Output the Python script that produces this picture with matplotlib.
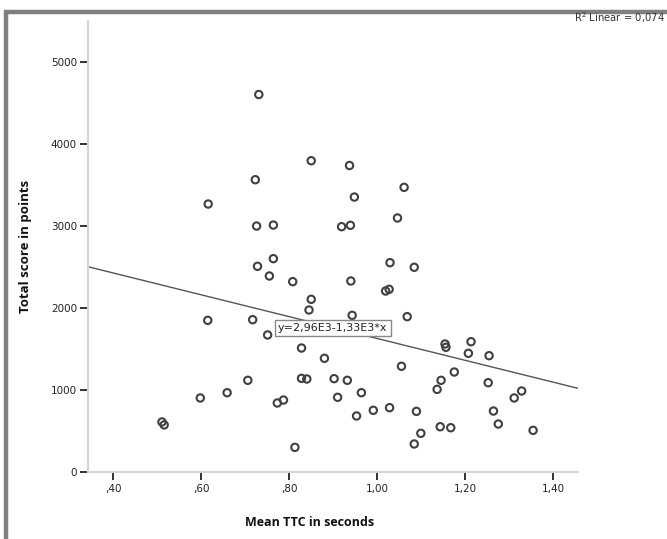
"""
Scatter of total score vs. mean TTC with linear fit (SPSS style).
"""

import matplotlib
matplotlib.use("Agg")
import matplotlib.pyplot as plt
from matplotlib.patches import Rectangle

# Mean time-to-collision (s) per participant
mean_ttc = [
    0.731, 0.850, 0.937, 0.723, 0.948, 0.616, 1.061, 1.046, 0.726, 0.764,
    0.919, 0.939, 0.764, 0.728, 0.755, 0.808, 0.940, 0.850, 0.845, 0.943,
    0.615, 0.717, 0.751, 0.828, 1.029, 1.084, 1.019, 1.027, 1.068, 1.154,
    1.156, 1.213, 1.207, 1.254, 1.055, 1.175, 1.145, 1.136, 1.252, 1.328,
    1.311, 0.991, 1.028, 1.089, 1.264, 1.275, 1.143, 1.167, 1.099, 1.084,
    1.354, 0.880, 0.828, 0.840, 0.902, 0.932, 0.706, 0.964, 0.910, 0.598,
    0.659, 0.787, 0.773, 0.953, 0.511, 0.516, 0.813,
]

# Total score in points per participant
total_score = [
    4600, 3794, 3736, 3563, 3352, 3267, 3470, 3097, 2999, 3011,
    2991, 3008, 2602, 2509, 2391, 2322, 2330, 2107, 1977, 1912,
    1851, 1859, 1673, 1514, 2553, 2497, 2208, 2229, 1896, 1563,
    1523, 1591, 1450, 1421, 1292, 1222, 1121, 1011, 1092, 991,
    906, 756, 788, 743, 747, 589, 556, 544, 476, 346,
    512, 1389, 1145, 1137, 1141, 1121, 1121, 970, 914, 906,
    970, 881, 845, 687, 614, 578, 305,
]

# Linear fit reported by SPSS
fit_intercept = 2.96e3
fit_slope = -1.33e3
r_squared = 0.074

x_ticks = [0.40, 0.60, 0.80, 1.00, 1.20, 1.40]
x_tick_labels = [",40", ",60", ",80", "1,00", "1,20", "1,40"]
y_ticks = [0, 1000, 2000, 3000, 4000, 5000]
y_tick_labels = ["0", "1000", "2000", "3000", "4000", "5000"]

x_min, x_max = 0.343, 1.456
y_min, y_max = 0, 5500

tick_font = "DejaVu Sans"
label_font = "Open Sans"

W, H = 667, 539
fig = plt.figure(figsize=(W / 100, H / 100), dpi=100)
fig.patch.set_facecolor("white")

# grey output frame around the chart
fig.patches.append(Rectangle((5.5 / W, -0.1), 1.2, (H - 11.5) / H + 0.1,
                             transform=fig.transFigure, fill=False,
                             edgecolor="#7f7f7f", linewidth=3.2))

ax = fig.add_axes([88 / W, 66.6 / H, 490 / W, 451.8 / H])
ax.set_xlim(x_min, x_max)
ax.set_ylim(y_min, y_max)

ax.scatter(mean_ttc, total_score, s=28, facecolors="none",
           edgecolors="#404040", linewidths=1.5, zorder=3)

# fit line over the full x range
fit_x = [x_min, x_max]
fit_y = [fit_intercept + fit_slope * v for v in fit_x]
ax.plot(fit_x, fit_y, color="#555555", linewidth=1.0, zorder=2)

eq_text = "y={:.2f}E3{:+.2f}E3*x".format(fit_intercept / 1e3, fit_slope / 1e3)
ax.text(0.899, 1758, eq_text.replace(".", ","), ha="center", va="center",
        fontsize=8, family=tick_font, color="#222222", zorder=4,
        bbox=dict(boxstyle="square,pad=0.3", facecolor="white",
                  edgecolor="#888888", linewidth=1.0))

fig.text(665 / W, 1 - 18 / H,
         "R$^2$ Linear = {}".format(f"{r_squared:.3f}".replace(".", ",")),
         ha="right", va="center", fontsize=7.2, family=tick_font,
         color="#333333")

for side in ["top", "right"]:
    ax.spines[side].set_visible(False)
for side in ["left", "bottom"]:
    ax.spines[side].set_color("#d4d4d4")
    ax.spines[side].set_linewidth(1.5)

ax.set_xticks(x_ticks)
ax.set_xticklabels(x_tick_labels)
ax.set_yticks(y_ticks)
ax.set_yticklabels(y_tick_labels)
ax.tick_params(axis="both", direction="out", length=6, width=1.4,
               color="#333333", labelsize=7.5, labelcolor="#222222", pad=2)
for lbl in ax.get_xticklabels() + ax.get_yticklabels():
    lbl.set_family(tick_font)

ax.set_xlabel("Mean TTC in seconds", fontsize=9, fontweight="bold",
              family=label_font, color="#111111")
ax.set_ylabel("Total score in points", fontsize=9.5, fontweight="bold",
              family=label_font, color="#111111")
ax.xaxis.set_label_coords((310 - 88) / 490, -(516 - 472.4) / 451.8)
ax.yaxis.set_label_coords(-(88 - 32) / 490, 0.5)

fig.savefig("out.png", dpi=100, facecolor="white")
